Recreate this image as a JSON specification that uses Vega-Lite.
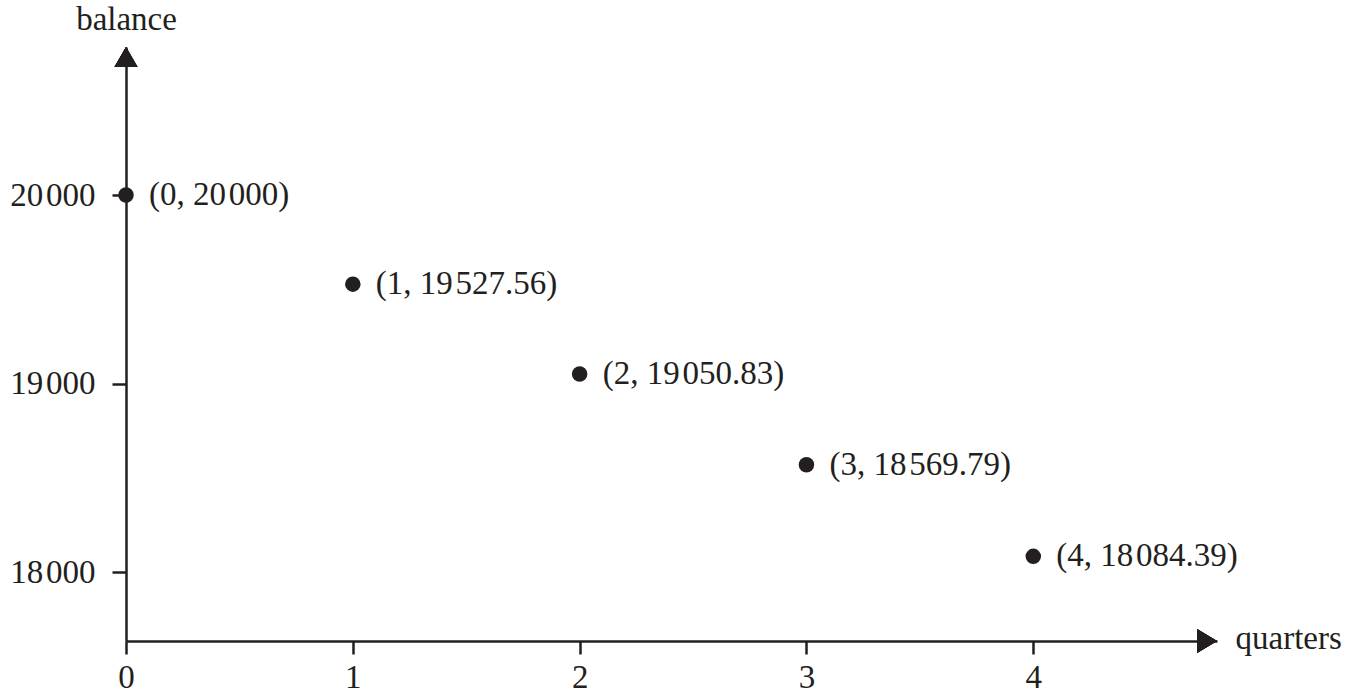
{
  "$schema": "https://vega.github.io/schema/vega-lite/v6.json",
  "width": 1091,
  "height": 594,
  "autosize": {"type": "none"},
  "padding": {"left": 126, "top": 47, "right": 129, "bottom": 53},
  "background": "white",
  "config": {
    "view": {"stroke": null},
    "font": "Liberation Serif"
  },
  "data": {
    "values": [
      {"quarter": 0, "balance": 20000, "label": "(0, 20\u200a000)"},
      {"quarter": 1, "balance": 19527.56, "label": "(1, 19\u200a527.56)"},
      {"quarter": 2, "balance": 19050.83, "label": "(2, 19\u200a050.83)"},
      {"quarter": 3, "balance": 18569.79, "label": "(3, 18\u200a569.79)"},
      {"quarter": 4, "balance": 18084.39, "label": "(4, 18\u200a084.39)"}
    ]
  },
  "encoding": {
    "x": {
      "field": "quarter",
      "type": "quantitative",
      "scale": {"domain": [0, 4.81], "nice": false, "zero": false},
      "axis": {
        "title": "quarters",
        "values": [0, 1, 2, 3, 4],
        "format": "d",
        "grid": false,
        "labelFlush": false,
        "labelOverlap": false,
        "domainColor": "#231f20",
        "domainWidth": 2.5,
        "tickColor": "#231f20",
        "tickWidth": 2.5,
        "tickSize": 13,
        "labelFontSize": 33,
        "labelColor": "#231f20",
        "labelPadding": 7,
        "labelFont": "Liberation Serif",
        "titleFont": "Liberation Serif",
        "titleFontSize": 33,
        "titleFontWeight": "normal",
        "titleColor": "#231f20",
        "titleX": 1109,
        "titleY": 7,
        "titleAlign": "left",
        "titleBaseline": "alphabetic"
      }
    },
    "y": {
      "field": "balance",
      "type": "quantitative",
      "scale": {"domain": [17635.7, 20784.7], "nice": false, "zero": false},
      "axis": {
        "title": "balance",
        "values": [18000, 19000, 20000],
        "labelExpr": "replace(format(datum.value, ','), ',', '\u200a')",
        "grid": false,
        "labelFlush": false,
        "labelOverlap": false,
        "domainColor": "#231f20",
        "domainWidth": 2.5,
        "tickColor": "#231f20",
        "tickWidth": 2.5,
        "tickSize": 14,
        "labelFontSize": 33,
        "labelColor": "#231f20",
        "labelPadding": 17,
        "labelFont": "Liberation Serif",
        "titleFont": "Liberation Serif",
        "titleFontSize": 33,
        "titleFontWeight": "normal",
        "titleColor": "#231f20",
        "titleAngle": 0,
        "titleX": 0,
        "titleY": -17.5,
        "titleAlign": "center",
        "titleBaseline": "alphabetic"
      }
    }
  },
  "layer": [
    {
      "mark": {"type": "point", "filled": true, "opacity": 1, "color": "#231f20", "shape": "M0,0L1.15,2L-1.15,2Z", "size": 400},
      "encoding": {
        "x": {"datum": 0, "type": "quantitative"},
        "y": {"datum": 20784.7, "type": "quantitative"}
      }
    },
    {
      "mark": {"type": "point", "filled": true, "opacity": 1, "color": "#231f20", "shape": "M0,0L-2,-1.2L-2,1.2Z", "size": 400},
      "encoding": {
        "x": {"datum": 4.81, "type": "quantitative"},
        "y": {"datum": 17635.7, "type": "quantitative"}
      }
    },
    {
      "mark": {"type": "circle", "size": 240, "opacity": 1, "color": "#231f20"}
    },
    {
      "mark": {"type": "text", "align": "left", "baseline": "middle", "dx": 23, "fontSize": 33, "font": "Liberation Serif", "color": "#231f20"},
      "encoding": {"text": {"field": "label"}}
    }
  ]
}
